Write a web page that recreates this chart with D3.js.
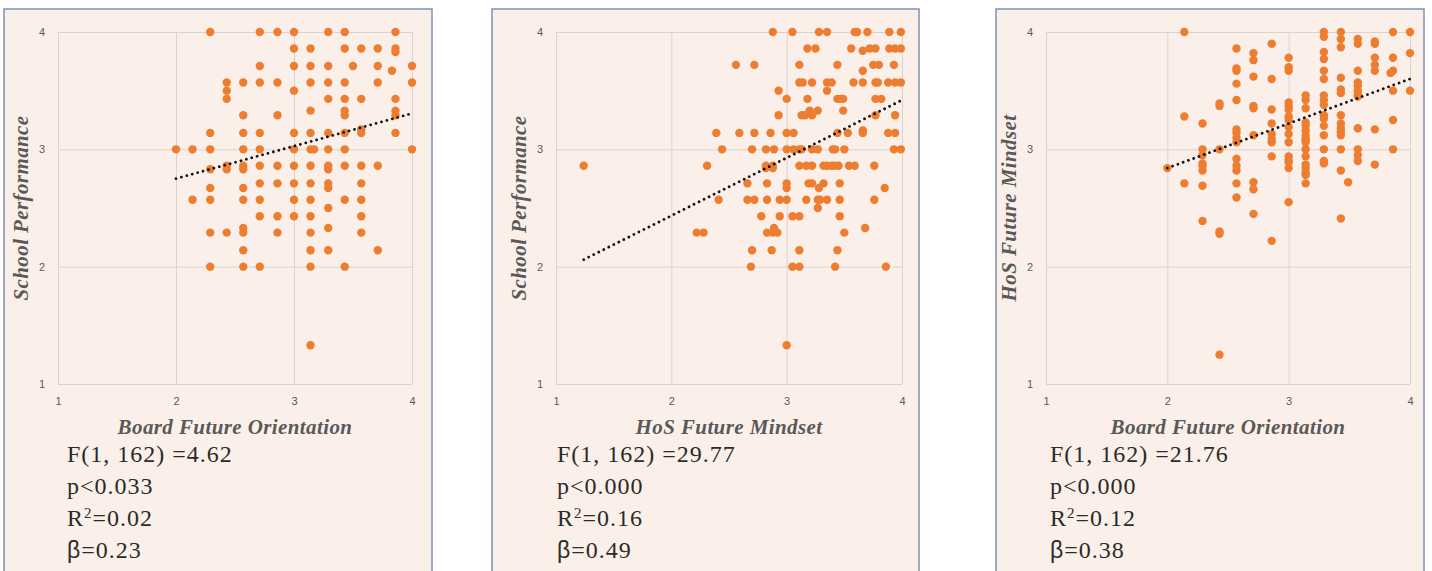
<!DOCTYPE html>
<html>
<head>
<meta charset="utf-8">
<script src="https://d3js.org/d3.v7.min.js"></script>
<style>
  body { margin: 0; background: #ffffff; }
</style>
</head>
<body>
<div id="chart"></div>
<script>
// ---- data: [x, [y values in that column]] ----
var boardVsSchool = [
  [2.00, [3.00]],
  [2.14, [3.00, 2.57]],
  [2.29, [4.00, 3.14, 3.00, 2.83, 2.67, 2.57, 2.29, 2.00]],
  [2.43, [3.57, 3.50, 3.43, 2.86, 2.83, 2.29]],
  [2.57, [3.57, 3.29, 3.14, 3.00, 2.86, 2.83, 2.67, 2.57, 2.33, 2.29, 2.14, 2.00]],
  [2.71, [4.00, 3.71, 3.57, 3.14, 3.00, 2.86, 2.71, 2.57, 2.43, 2.00]],
  [2.86, [4.00, 3.57, 3.29, 2.86, 2.71, 2.43, 2.29]],
  [3.00, [4.00, 3.86, 3.71, 3.50, 3.14, 3.00, 2.86, 2.71, 2.57, 2.43]],
  [3.14, [3.86, 3.71, 3.57, 3.33, 3.14, 3.00, 2.86, 2.71, 2.57, 2.43, 2.29, 2.14, 2.00, 1.33]],
  [3.17, [3.00]],
  [3.29, [4.00, 3.71, 3.57, 3.43, 3.14, 3.00, 2.86, 2.83, 2.71, 2.67, 2.50, 2.33, 2.14]],
  [3.43, [4.00, 3.86, 3.57, 3.43, 3.33, 3.29, 3.14, 3.00, 2.86, 2.57, 2.00]],
  [3.50, [3.71]],
  [3.57, [3.86, 3.43, 3.17, 3.14, 2.86, 2.71, 2.57, 2.43, 2.29]],
  [3.71, [3.86, 3.71, 3.57, 2.86, 2.14]],
  [3.83, [3.67]],
  [3.86, [4.00, 3.86, 3.83, 3.43, 3.33, 3.29, 3.14]],
  [4.00, [3.71, 3.57, 3.00]]
];

// HoS future mindset vs school performance: [y, [x values in that row]]
var hosVsSchool = [
  [4.00, [2.88, 3.05, 3.28, 3.35, 3.59, 3.61, 3.70, 3.89, 3.99]],
  [3.86, [3.18, 3.25, 3.56, 3.72, 3.77, 3.89, 3.94, 3.99]],
  [3.84, [3.66]],
  [3.72, [2.56, 2.72, 3.11, 3.44, 3.75, 3.80, 3.93]],
  [3.67, [3.66]],
  [3.57, [3.11, 3.14, 3.22, 3.35, 3.39, 3.58, 3.66, 3.77, 3.79, 3.88, 3.94, 3.99]],
  [3.50, [2.93, 3.35]],
  [3.43, [3.00, 3.18, 3.44, 3.47, 3.49, 3.77, 3.82]],
  [3.33, [3.20, 3.27, 3.49]],
  [3.29, [2.93, 3.13, 3.16, 3.22, 3.77, 3.94]],
  [3.16, [3.66]],
  [3.14, [2.39, 2.59, 2.72, 2.86, 3.00, 3.06, 3.44, 3.53, 3.66, 3.88, 3.94]],
  [3.00, [2.44, 2.70, 2.82, 2.89, 3.00, 3.06, 3.11, 3.13, 3.22, 3.27, 3.40, 3.42, 3.50, 3.93, 3.99]],
  [2.86, [1.24, 2.31, 2.82, 2.88, 3.11, 3.17, 3.22, 3.32, 3.35, 3.39, 3.41, 3.45, 3.54, 3.59, 3.76]],
  [2.84, [2.82, 2.88]],
  [2.71, [2.66, 2.83, 3.00, 3.19, 3.22, 3.32, 3.46]],
  [2.67, [3.00, 3.28, 3.85]],
  [2.57, [2.41, 2.66, 2.72, 2.83, 2.94, 3.00, 3.17, 3.27, 3.29, 3.35, 3.46, 3.76]],
  [2.50, [3.27]],
  [2.43, [2.78, 2.94, 3.05, 3.11, 3.46]],
  [2.33, [2.89, 3.68]],
  [2.29, [2.22, 2.28, 2.83, 2.88, 2.92, 3.50]],
  [2.14, [2.70, 2.87, 3.11, 3.44]],
  [2.00, [2.69, 3.05, 3.11, 3.42, 3.86]],
  [1.33, [3.00]]
];

// board future orientation vs HoS future mindset: [x, [y values]]
var boardVsHos = [
  [2.00, [2.84]],
  [2.14, [4.00, 3.28, 2.71]],
  [2.29, [3.22, 3.00, 2.95, 2.88, 2.86, 2.82, 2.69, 2.39]],
  [2.43, [3.39, 3.37, 3.00, 2.30, 2.28, 1.25]],
  [2.57, [3.86, 3.69, 3.67, 3.56, 3.42, 3.17, 3.14, 3.10, 3.06, 2.92, 2.86, 2.82, 2.71, 2.59]],
  [2.71, [3.82, 3.76, 3.62, 3.37, 3.35, 3.12, 2.72, 2.66, 2.45]],
  [2.86, [3.90, 3.60, 3.34, 3.22, 3.13, 3.09, 3.06, 2.94, 2.22]],
  [3.00, [3.78, 3.70, 3.67, 3.40, 3.37, 3.34, 3.28, 3.25, 3.19, 3.13, 3.06, 2.94, 2.91, 2.89, 2.84, 2.55]],
  [3.14, [3.46, 3.42, 3.35, 3.23, 3.20, 3.16, 3.12, 3.09, 3.08, 3.06, 3.00, 2.94, 2.87, 2.84, 2.80, 2.78, 2.71]],
  [3.29, [4.00, 3.96, 3.83, 3.77, 3.67, 3.60, 3.46, 3.42, 3.38, 3.29, 3.26, 3.20, 3.12, 3.00, 2.90, 2.88]],
  [3.43, [4.00, 3.94, 3.87, 3.61, 3.51, 3.48, 3.29, 3.22, 3.18, 3.15, 3.12, 3.00, 2.82, 2.41]],
  [3.49, [2.72]],
  [3.57, [3.94, 3.90, 3.67, 3.57, 3.54, 3.50, 3.47, 3.45, 3.18, 3.00, 2.95, 2.90]],
  [3.71, [3.92, 3.90, 3.78, 3.72, 3.67, 3.17, 2.87]],
  [3.84, [3.65]],
  [3.86, [4.00, 3.78, 3.67, 3.50, 3.25, 3.00]],
  [4.00, [4.00, 3.82, 3.50]]
];

// trend lines as drawn: [x0, y0, x1, y1]
var trendBoardSchool = [2.00, 2.75, 3.98, 3.30];
var trendHosSchool = [1.24, 2.06, 4.00, 3.42];
var trendBoardHos = [2.00, 2.84, 4.00, 3.60];

var tickValues = [1, 2, 3, 4];
var xTitles = ["Board Future Orientation", "HoS Future Mindset", "Board Future Orientation"];
var yTitles = ["School Performance", "School Performance", "HoS Future Mindset"];
var fValues = ["4.62", "29.77", "21.76"];
var pValues = ["0.033", "0.000", "0.000"];
var r2Values = ["0.02", "0.16", "0.12"];
var betaValues = ["0.23", "0.49", "0.38"];

// flatten helpers
function byColumn(cols) {
  var out = [];
  cols.forEach(function (c) { c[1].forEach(function (y) { out.push([c[0], y]); }); });
  return out;
}
function byRow(rows) {
  var out = [];
  rows.forEach(function (r) { r[1].forEach(function (x) { out.push([x, r[0]]); }); });
  return out;
}

var points = [byColumn(boardVsSchool), byRow(hosVsSchool), byColumn(boardVsHos)];
var trends = [trendBoardSchool, trendHosSchool, trendBoardHos];

// layout of the three panels
var layout = [
  { box: [4, 432], plot: [58, 412], statsX: 67 },
  { box: [492, 919], plot: [556, 902], statsX: 557 },
  { box: [996, 1424], plot: [1046, 1410], statsX: 1050 }
];
var plotTop = 32, plotBottom = 384;
var serif = "'Liberation Serif', 'Times New Roman', serif";
var sans = "'Liberation Sans', Arial, sans-serif";

var svg = d3.select("#chart").append("svg")
  .attr("width", 1432)
  .attr("height", 571);

layout.forEach(function (L, i) {
  var g = svg.append("g");

  g.append("rect")
    .attr("x", L.box[0]).attr("y", 9)
    .attr("width", L.box[1] - L.box[0]).attr("height", 600)
    .attr("fill", "#fbf0e9")
    .attr("stroke", "#7f90bd")
    .attr("stroke-width", 1.5);

  var x = d3.scaleLinear().domain([1, 4]).range(L.plot);
  var y = d3.scaleLinear().domain([1, 4]).range([plotBottom, plotTop]);

  // gridlines
  g.append("g")
    .attr("transform", "translate(0," + plotBottom + ")")
    .call(d3.axisBottom(x).tickValues(tickValues).tickSize(-(plotBottom - plotTop)).tickFormat(""))
    .call(function (a) { a.select(".domain").remove(); a.selectAll("line").attr("stroke", "#d9d3cf"); });
  g.append("g")
    .attr("transform", "translate(" + L.plot[0] + ",0)")
    .call(d3.axisLeft(y).tickValues(tickValues).tickSize(-(L.plot[1] - L.plot[0])).tickFormat(""))
    .call(function (a) { a.select(".domain").remove(); a.selectAll("line").attr("stroke", "#d9d3cf"); });

  // tick labels
  g.append("g")
    .attr("transform", "translate(0," + plotBottom + ")")
    .call(d3.axisBottom(x).tickValues(tickValues).tickSize(0).tickPadding(13).tickFormat(d3.format("d")))
    .call(function (a) {
      a.select(".domain").remove();
      a.selectAll("text").attr("fill", "#595959").style("font-family", sans).style("font-size", "11px");
    });
  g.append("g")
    .attr("transform", "translate(" + L.plot[0] + ",0)")
    .call(d3.axisLeft(y).tickValues(tickValues).tickSize(0).tickPadding(13).tickFormat(d3.format("d")))
    .call(function (a) {
      a.select(".domain").remove();
      a.selectAll("text").attr("fill", "#595959").style("font-family", sans).style("font-size", "11px");
    });

  // points
  g.append("g").selectAll("circle")
    .data(points[i])
    .enter().append("circle")
    .attr("cx", function (d) { return x(d[0]); })
    .attr("cy", function (d) { return y(d[1]); })
    .attr("r", 4.2)
    .attr("fill", "#ed7d31");

  // dotted trend line
  var t = trends[i];
  g.append("line")
    .attr("x1", x(t[0])).attr("y1", y(t[1]))
    .attr("x2", x(t[2])).attr("y2", y(t[3]))
    .attr("stroke", "#111")
    .attr("stroke-width", 2.8)
    .attr("stroke-linecap", "round")
    .attr("stroke-dasharray", "0.01 5.6");

  // axis titles
  var mid = (L.plot[0] + L.plot[1]) / 2;
  g.append("text")
    .attr("x", mid).attr("y", 434)
    .attr("text-anchor", "middle")
    .style("font-family", serif)
    .style("font-weight", "bold").style("font-style", "italic")
    .style("font-size", "21px").style("letter-spacing", "0.4px")
    .attr("fill", "#595959")
    .text(xTitles[i]);
  g.append("text")
    .attr("transform", "translate(" + (L.plot[0] - 30) + "," + ((plotTop + plotBottom) / 2) + ") rotate(-90)")
    .attr("text-anchor", "middle")
    .style("font-family", serif)
    .style("font-weight", "bold").style("font-style", "italic")
    .style("font-size", "21px").style("letter-spacing", "0.4px")
    .attr("fill", "#595959")
    .text(yTitles[i]);

  // statistics block
  function statLine(yPos) {
    return g.append("text").attr("x", L.statsX).attr("y", yPos)
      .attr("fill", "#2b2b2b")
      .style("font-family", serif).style("font-size", "24px")
      .style("letter-spacing", "1px");
  }
  statLine(462).text("F(1, 162) =" + fValues[i]);
  statLine(494).text("p<" + pValues[i]);
  var r = statLine(526);
  r.append("tspan").text("R");
  r.append("tspan").attr("dy", -8).style("font-size", "15px").text("2");
  r.append("tspan").attr("dy", 8).text("=" + r2Values[i]);
  var b = statLine(558);
  b.append("tspan").style("font-family", sans).style("font-size", "23px").text("β");
  b.append("tspan").text("=" + betaValues[i]);
});
</script>
</body>
</html>
